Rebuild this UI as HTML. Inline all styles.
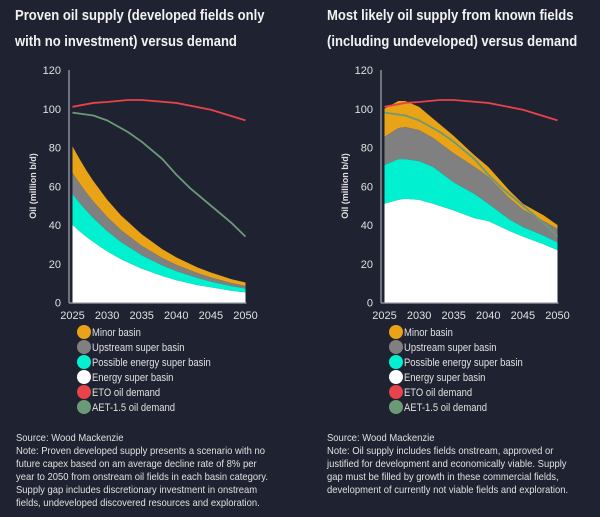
<!DOCTYPE html>
<html><head><meta charset="utf-8"><style>
body{margin:0;background:#1f2230;width:600px;height:517px;overflow:hidden;font-family:"Liberation Sans",sans-serif;color:#e6e6e6}
.t{position:absolute;font-weight:bold;font-size:15px;line-height:26px;color:#f2f2f2;white-space:nowrap;transform:scaleX(0.87);transform-origin:0 0}
.n{position:absolute;font-size:10.5px;line-height:13px;color:#e0e0e0;white-space:nowrap;transform:scaleX(0.9);transform-origin:0 0}
</style></head><body>
<div class="t" style="left:15px;top:3px">Proven oil supply (developed fields only<br>with no investment) versus demand</div>
<div class="t" style="left:327px;top:3px">Most likely oil supply from known fields<br>(including undeveloped) versus demand</div>
<svg id="s" width="600" height="517" style="position:absolute;left:0;top:0"></svg>
<div class="n" style="left:16px;top:432px">Source: Wood Mackenzie<br>Note: Proven developed supply presents a scenario with no<br>future capex based on am average decline rate of 8% per<br>year to 2050 from onstream oil fields in each basin category.<br>Supply gap includes discretionary investment in onstream<br>fields, undeveloped discovered resources and exploration.</div>
<div class="n" style="left:327px;top:432px">Source: Wood Mackenzie<br>Note: Oil supply includes fields onstream, approved or<br>justified for development and economically viable. Supply<br>gap must be filled by growth in these commercial fields,<br>development of currently not viable fields and exploration.</div>
<script>
const yTicks=[0,20,40,60,80,100,120];
const xTicks=[2025,2030,2035,2040,2045,2050];
const seriesNames=["Minor basin","Upstream super basin","Possible energy super basin","Energy super basin","ETO oil demand","AET-1.5 oil demand"];
const seriesColors=["#e8a317","#808080","#00f0d0","#ffffff","#e8424a","#6a9a78"];
// left chart stacked cumulative tops
const leftYears=[2025,2026,2027,2028,2030,2032,2035,2038,2040,2043,2045,2048,2050];
const leftEnergyTop=[40,36.8,33.9,31.2,26.4,22.3,17.4,13.6,11.5,9,7.8,6,5.2];
const leftPossibleTop=[56,51.5,47.4,43.6,36.9,31.2,24.4,19.1,16.2,12.7,10.8,8.4,7.2];
const leftUpstreamTop=[67,61.6,56.7,52.2,44.2,37.4,29.2,22.9,19.4,15.2,12.9,10,8.5];
const leftMinorTop=[80.6,74.2,68.2,62.8,53.1,45,35.2,27.5,23.3,18.2,15.5,12,10.3];
// right chart stacked cumulative tops
const rightYears=[2025,2027,2028,2030,2032,2035,2038,2040,2043,2045,2048,2050];
const rightEnergyTop=[51,53,53.5,53,51,47.5,43.5,42,37,34,30,27];
const rightPossibleTop=[71,74,74,73,70,62,56,51,43,39,34.5,31];
const rightUpstreamTop=[85.5,90,90.5,89,85,77,70,65,54,48,42,38];
const rightMinorTop=[100,104,104,101,95,86,76,70,58,51,45,40];
// demand
const etoYears=[2025,2028,2030,2033,2035,2040,2045,2050];
const etoValues=[101,103,103.5,104.5,104.5,103,99.5,94];
const aetYears=[2025,2028,2030,2033,2035,2038,2040,2042,2045,2048,2050];
const aetValues=[98,96.5,94,88,83,74,66,59,50,41,34];

const svg=document.getElementById('s');const NS="http://www.w3.org/2000/svg";
function mk(t,a,p){const e=document.createElementNS(NS,t);for(const k in a)e.setAttribute(k,a[k]);(p||svg).appendChild(e);return e;}
function chart(ax,x0,x1,name){
  const g=mk('g',{});
  
  
  const y=v=>302.5-v*(232.5/120);
  const x=yr=>x0+(yr-2025)/25*(x1-x0);
  const ya=mk('line',{x1:ax,x2:ax,y1:70,y2:303,stroke:'#8a8d99','stroke-width':1.5},g);
  
  
  const xa=mk('line',{x1:ax,x2:x1+1,y1:303,y2:303,stroke:'#8a8d99','stroke-width':1.5},g);
  
  
  yTicks.forEach(v=>{const t=mk('text',{x:ax-8,y:y(v)+4,'text-anchor':'end','font-size':11,fill:'#e0e0e0'},g);t.textContent=v;
    
    });
  xTicks.forEach(v=>{const t=mk('text',{x:x(v),y:319,'text-anchor':'middle','font-size':11,fill:'#e0e0e0'},g);t.textContent=v;
    
    });
  const yt=mk('text',{transform:`translate(${ax-33},186) rotate(-90)`,'text-anchor':'middle','font-size':9,'font-weight':'bold',fill:'#e0e0e0'},g);
  yt.textContent='Oil  (million b/d)';
  
  
  return {g,x,y};
}
function area(c,yrs,top,bot,col,name){
  let d='M'+yrs.map((yr,i)=>c.x(yr)+','+c.y(top[i])).join('L');
  for(let i=yrs.length-1;i>=0;i--)d+='L'+c.x(yrs[i])+','+c.y(bot[i]);
  const p=mk('path',{d:d+'Z',fill:col},c.g);
  
  
}
function line(c,yrs,vals,col,name){
  const p=mk('polyline',{points:yrs.map((yr,i)=>c.x(yr)+','+c.y(vals[i])).join(' '),fill:'none',stroke:col,'stroke-width':1.8,'stroke-linejoin':'round'},c.g);
  
  
}
function legend(cx,name){
  const g=mk('g',{});
  
  
  seriesNames.forEach((n,i)=>{const cy=332+i*15;
    const c=mk('circle',{cx:cx,cy:cy,r:7,fill:seriesColors[i]},g);
    
    
    const t=mk('text',{transform:`translate(${cx+8},${cy+4}) scale(0.86,1)`,'font-size':11,fill:'#e0e0e0'},g);t.textContent=n;
    
    });
}
// left
const L=chart(69,72.5,245.5,'left-chart');
const zero=leftYears.map(()=>0);
area(L,leftYears,leftMinorTop,leftUpstreamTop,seriesColors[0],'minor-basin-area');
area(L,leftYears,leftUpstreamTop,leftPossibleTop,seriesColors[1],'upstream-area');
area(L,leftYears,leftPossibleTop,leftEnergyTop,seriesColors[2],'possible-energy-area');
area(L,leftYears,leftEnergyTop,zero,seriesColors[3],'energy-area');
line(L,etoYears,etoValues,seriesColors[4],'eto-line');
line(L,aetYears,aetValues,seriesColors[5],'aet-line');
legend(84,'left-legend');
// right
const R=chart(381,384.5,557.5,'right-chart');
const rz=rightYears.map(()=>0);
area(R,rightYears,rightMinorTop,rightUpstreamTop,seriesColors[0],'minor-basin-area');
area(R,rightYears,rightUpstreamTop,rightPossibleTop,seriesColors[1],'upstream-area');
area(R,rightYears,rightPossibleTop,rightEnergyTop,seriesColors[2],'possible-energy-area');
area(R,rightYears,rightEnergyTop,rz,seriesColors[3],'energy-area');
line(R,etoYears,etoValues,seriesColors[4],'eto-line');
line(R,aetYears,aetValues,seriesColors[5],'aet-line');
legend(396,'right-legend');
</script>
</body></html>
